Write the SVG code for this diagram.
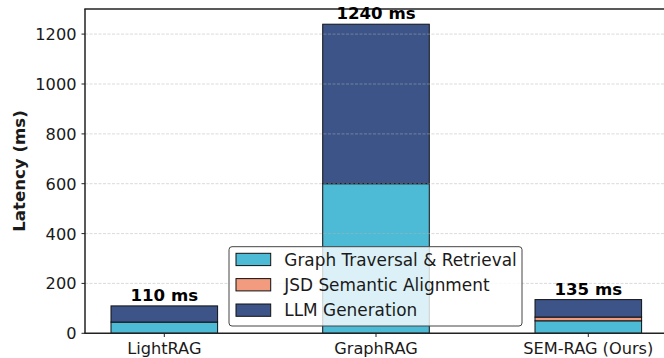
<svg xmlns="http://www.w3.org/2000/svg" width="664" height="358" viewBox="0 0 664 358">
  <style>
    text { font-family: "DejaVu Sans", "Liberation Sans", sans-serif; fill: #1a1a1a; }
    .tick { font-size: 16.2px; }
    .ylab { font-size: 16.6px; font-weight: bold; }
    .val { font-size: 16.6px; font-weight: bold; text-anchor: middle; fill: #000; }
    .leg { font-size: 16.9px; }
    .grid { stroke: #b0b0b0; stroke-opacity: 0.6; stroke-width: 0.8; stroke-dasharray: 3 1.5; fill: none; }
    .spine { stroke: #222; stroke-width: 1.5; fill: none; }
    .tk { stroke: #222; stroke-width: 1; }
    .bar { stroke: #111; stroke-width: 1; }
    .ret { fill: #4DBBD5; }
    .jsd { fill: #F39B7F; }
    .llm { fill: #3C5488; }
  </style>

  <rect width="664" height="358" fill="#ffffff"/>

  <!-- stacked bars: y(v) = 333.3 - 0.2493*v -->
  <g id="bar-lightrag">
    <rect class="bar ret" x="111" y="322.1" width="106.6" height="11.2"/>
    <rect class="bar llm" x="111" y="305.9" width="106.6" height="16.2"/>
  </g>
  <g id="bar-graphrag">
    <rect class="bar ret" x="322.7" y="183.7" width="106.6" height="149.6"/>
    <rect class="bar llm" x="322.7" y="24.2" width="106.6" height="159.5"/>
  </g>
  <g id="bar-semrag">
    <rect class="bar ret" x="535" y="320.8" width="106.6" height="12.5"/>
    <rect class="bar jsd" x="535" y="317.1" width="106.6" height="3.7"/>
    <rect class="bar llm" x="535" y="299.6" width="106.6" height="17.5"/>
  </g>

  <!-- horizontal grid -->
  <g id="grid">
    <line class="grid" x1="85" y1="283.4" x2="664" y2="283.4"/>
    <line class="grid" x1="85" y1="233.6" x2="664" y2="233.6"/>
    <line class="grid" x1="85" y1="183.7" x2="664" y2="183.7"/>
    <line class="grid" x1="85" y1="133.9" x2="664" y2="133.9"/>
    <line class="grid" x1="85" y1="84.0" x2="664" y2="84.0"/>
    <line class="grid" x1="85" y1="34.1" x2="664" y2="34.1"/>
  </g>

  <!-- axes -->
  <g id="axes">
    <line class="spine" x1="85" y1="9" x2="85" y2="333.3"/>
    <line class="spine" x1="84.3" y1="333.3" x2="664" y2="333.3"/>
    <line class="spine" x1="84.3" y1="9" x2="664" y2="9"/>
    <line class="tk" x1="81.5" y1="333.3" x2="85" y2="333.3"/>
    <line class="tk" x1="81.5" y1="283.4" x2="85" y2="283.4"/>
    <line class="tk" x1="81.5" y1="233.6" x2="85" y2="233.6"/>
    <line class="tk" x1="81.5" y1="183.7" x2="85" y2="183.7"/>
    <line class="tk" x1="81.5" y1="133.9" x2="85" y2="133.9"/>
    <line class="tk" x1="81.5" y1="84.0" x2="85" y2="84.0"/>
    <line class="tk" x1="81.5" y1="34.1" x2="85" y2="34.1"/>
    <line class="tk" x1="164.3" y1="333.3" x2="164.3" y2="337"/>
    <line class="tk" x1="376" y1="333.3" x2="376" y2="337"/>
    <line class="tk" x1="588.3" y1="333.3" x2="588.3" y2="337"/>
  </g>

  <g id="y-ticks" class="tick" text-anchor="end">
    <text x="76.5" y="339.2">0</text>
    <text x="76.5" y="289.3">200</text>
    <text x="76.5" y="239.5">400</text>
    <text x="76.5" y="189.6">600</text>
    <text x="76.5" y="139.8">800</text>
    <text x="76.5" y="89.9">1000</text>
    <text x="76.5" y="40.0">1200</text>
  </g>
  <g id="x-ticks" class="tick" text-anchor="middle">
    <text x="164.3" y="354.4">LightRAG</text>
    <text x="376" y="354.4">GraphRAG</text>
    <text x="588.3" y="354.4">SEM-RAG (Ours)</text>
  </g>
  <text class="ylab" text-anchor="middle" transform="translate(25 171) rotate(-90)">Latency (ms)</text>

  <!-- totals above bars -->
  <g id="totals">
    <text class="val" x="164.3" y="301.2">110 ms</text>
    <text class="val" x="376" y="19.3">1240 ms</text>
    <text class="val" x="588.3" y="294.8">135 ms</text>
  </g>

  <!-- legend -->
  <g id="legend">
    <rect x="229" y="246.7" width="293" height="79.3" rx="3" fill="#ffffff" fill-opacity="0.8" stroke="#444" stroke-width="1"/>
    <rect class="bar ret" x="236" y="253.3" width="34.7" height="12.3"/>
    <rect class="bar jsd" x="236" y="278.6" width="34.7" height="12.3"/>
    <rect class="bar llm" x="236" y="304" width="34.7" height="12.3"/>
    <text class="leg" x="284.3" y="265.6">Graph Traversal &amp; Retrieval</text>
    <text class="leg" x="284.3" y="290.9">JSD Semantic Alignment</text>
    <text class="leg" x="284.3" y="316.3">LLM Generation</text>
  </g>
</svg>
